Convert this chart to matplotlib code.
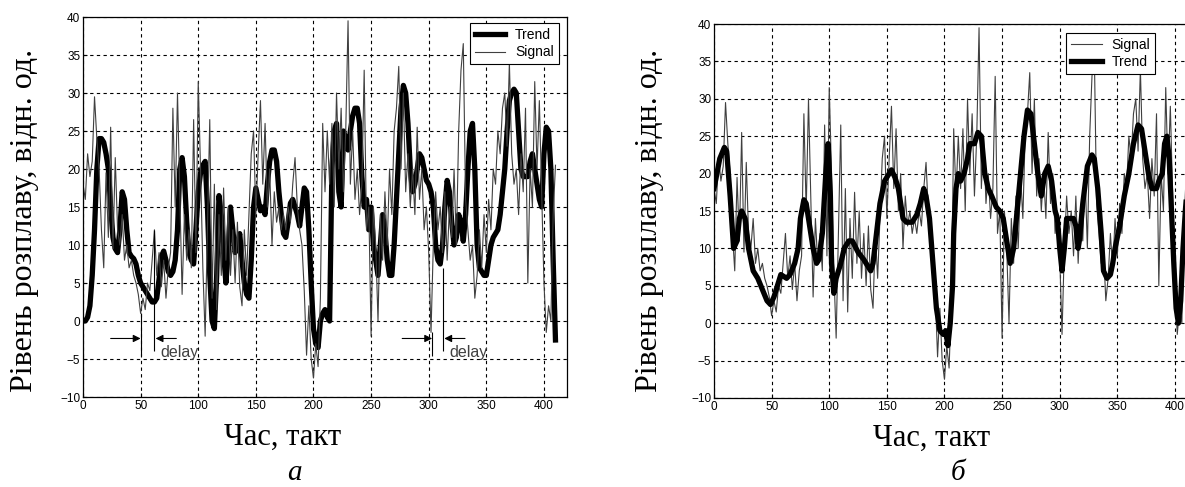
import numpy as np
import matplotlib.pyplot as plt

# signal, sampled every 2 cycles from 0 to 410 (same in both panels)
signal = [
    18, 16, 22, 19, 21, 29.5, 24, 20, 12, 7,
    19.5, 11, 25.5, 9.5, 21.5, 12, 10, 14, 8, 10,
    7, 8, 6, 5, 3.5, 1, 3, 1.5, 5, 4,
    8, 12, 6, 9, 4.5, 8, 3, 7, 9, 28,
    15, 30, 17, 3.5, 14, 8, 12, 7, 26.5, 9,
    31.5, 20, 7, -2, 12, 26.5, 3, 18, 1.5, 14,
    6, 17.5, 8, 15, 6, 12, 5, 13, 4.5, 2,
    12, 6, 14, 22, 25, 14, 22, 29, 18, 26,
    15, 20, 10, 17, 13, 15, 12, 14, 12, 15,
    13, 18, 21.5, 15, 12, 10, 4, -4.5, 2, -5,
    -7.5, -3, -6, 3, 26, 17, 25, 18, 26, 15,
    30, 20, 28, 17, 25, 39.5, 18, 25, 16, 20,
    14, 18, 33, 12, 15, -2, 15, 10, 0, 14,
    8, 17, 10, 20, 14, 25, 28, 33.5, 20, 30,
    17, 22, 15, 20, 14, 25.5, 16, 20, 12, 15,
    9, -1.5, 10, 17, 12, 15, 9, 17, 8, 15,
    11, 20, 10, 25, 33, 36.5, 16, 12, 8, 10,
    3, 6, 12, 7, 14, 9, 16, 12, 20, 18,
    25, 22, 28, 30, 23, 34, 22, 18, 20, 14,
    22, 17, 28, 5, 20, 15, 31.5, 20, 29, 17,
    5, -1.5, 2, 0, 14, 20.5,
]

# trend of panel (a), same sampling as the signal
trend_a = [
    0, 0, 0.5, 2, 6, 12, 20, 24, 24, 23.5,
    22, 20, 15, 11, 9.5, 9, 12, 17, 16, 12,
    9, 8.5, 8.2, 7.5, 6, 5, 4.5, 4, 3.5, 3,
    2.5, 2.5, 3, 5.5, 8.5, 9.2, 8, 6.5, 6, 6.5,
    8, 12, 20, 21.5, 19, 13, 9, 8, 7.5, 12,
    17, 19.5, 20.5, 21, 15, 6, 0, -1, 6, 16.5,
    14, 9, 5, 9, 15, 12, 9, 10, 11.5, 8,
    5, 3.5, 3, 8, 15, 17.5, 16, 14.5, 15, 14,
    18, 21, 22.5, 22.5, 21, 17, 14, 11.5, 11, 13,
    15.5, 16, 15, 14, 12.5, 15, 17.5, 17, 12, 5,
    -1, -3, -3.5, 0, 1, 1.5, 0.5, 0, 20, 25,
    26, 17, 15, 25, 24, 22.5, 25, 27, 28, 28,
    26, 19, 15, 16, 12, 15, 10, 8, 6, 10,
    14, 12, 8, 6, 6, 10, 16, 22, 28, 31,
    30, 26, 20, 17, 18, 20, 22, 21.5, 20, 18.5,
    18, 17, 15, 10, 8, 7.5, 10, 15, 18.5, 17,
    13, 10, 11, 14, 13, 10.5, 14, 20, 25, 26,
    20, 10, 7, 6.5, 6, 6, 8, 10, 11, 11.5,
    12, 14, 17, 20, 25, 29, 30, 30.5, 30, 25,
    20, 19, 19, 19, 21, 22, 20, 18, 16, 15,
    22, 25.5, 25, 20, 8, -2.5,
]

# trend of panel (b), read at its turning points
trend_b_x = [0, 5, 9, 11, 14, 17, 20, 22, 24, 27, 30, 34, 38, 42, 46, 49, 52, 55, 58,
             63, 66, 70, 73, 75, 78, 80, 83, 86, 89, 91, 94, 97, 99, 101, 102, 104,
             106, 108, 110, 113, 117, 120, 125, 130, 136, 138, 141, 144, 148, 154,
             157, 160, 162, 164, 167, 172, 176, 179, 182, 184, 187, 190, 193, 196,
             199, 201, 203, 205, 207, 208, 210, 212, 214, 217, 220, 222, 226, 229,
             232, 235, 238, 241, 245, 248, 251, 254, 257, 260, 263, 266, 269, 272,
             275, 278, 281, 284, 287, 290, 293, 296, 298, 300, 302, 304, 306, 309,
             312, 314, 316, 317, 320, 324, 328, 330, 333, 336, 338, 341, 344, 346,
             348, 352, 356, 360, 364, 368, 371, 374, 377, 380, 384, 386, 389, 391,
             393, 395, 397, 399, 401, 403, 405, 407, 409, 410]
trend_b = [18, 22, 23.5, 23, 17, 10, 11, 14, 15, 14, 10, 7, 6, 4.5, 3, 2.5, 3.5, 5, 6.5,
           6, 6.5, 8, 10, 14, 16.5, 16, 13, 10, 8, 8.5, 12, 20, 24, 17, 8, 4,
           6, 7, 8, 10, 11, 11, 9.5, 8.5, 7, 8, 12, 16, 19, 20.5,
           19.5, 18, 16, 14, 13.5, 13.5, 14.5, 16, 18, 17, 14, 8, 2, -1,
           -1.5, -1, -3, 0, 5, 12, 18, 20, 19, 20, 22, 24, 24, 25.5,
           25, 20, 18, 17, 15.5, 15, 14, 11, 8, 10, 15, 20, 25, 28.5,
           28, 24, 20, 17, 20, 21, 19, 15, 14, 10, 7, 10, 14, 14,
           14, 13, 10, 11, 16, 21, 22.5, 22, 18, 12, 7, 6, 6.5, 8,
           10, 13, 17, 20, 24, 26.5, 26, 23, 20, 18, 18, 19, 20, 24,
           25, 22, 15, 8, 2, 0, 3, 10, 15, 17]

# "delay" marks in panel (a): signal dip -> trend dip
delay_start = [50, 303]
delay_end = [62, 312.5]
delay_start_top = [1, -1.5]
delay_end_top = [12, 7]

x_ticks = list(range(0, 401, 50))
y_ticks = list(range(-10, 41, 5))
y_label = 'Рівень розплаву, відн. од.'
x_label = 'Час, такт'

sig_x = np.arange(len(signal)) * 2
W, H = 1185, 487

fig = plt.figure(figsize=(W / 100, H / 100), dpi=100)
ax1 = fig.add_axes([83 / W, (H - 397) / H, 484 / W, 380 / H])
ax2 = fig.add_axes([714 / W, (H - 398) / H, 484 / W, 374 / H])

sig_kw = dict(color='#404040', lw=0.8)
trend_kw = dict(color='black', lw=3.8, solid_joinstyle='round')
leg_kw = dict(loc='upper right', borderaxespad=0, handlelength=2.2,
              handletextpad=0.7, labelspacing=0.25, borderpad=0.35,
              fancybox=False, framealpha=1, edgecolor='black',
              prop={'family': 'Liberation Sans', 'size': 10})

la, = ax1.plot(sig_x, trend_a, label='Trend', **trend_kw)
ls, = ax1.plot(sig_x, signal, label='Signal', **sig_kw)
ax1.legend(handles=[la, ls], bbox_to_anchor=(0.983, 0.984), **leg_kw)

# delay annotation
arrow_y = -2.3
for x0, x1, t0, t1 in zip(delay_start, delay_end, delay_start_top, delay_end_top):
    ax1.vlines([x0], -4.6, t0, color='black', lw=0.8)
    ax1.vlines([x1], -4.0, t1, color='black', lw=0.8)
    ax1.annotate('', xy=(x0, arrow_y), xytext=(x0 - 26, arrow_y),
                 arrowprops=dict(arrowstyle='-|>', color='black', lw=0.8,
                                 mutation_scale=11, shrinkA=0, shrinkB=0))
    ax1.annotate('', xy=(x1 + 1, arrow_y), xytext=(x1 + 19, arrow_y),
                 arrowprops=dict(arrowstyle='-|>', color='black', lw=0.8,
                                 mutation_scale=11, shrinkA=0, shrinkB=0))
    ax1.text(x1 + 5, -4.1, 'delay', ha='left', va='center', color='#404040',
             family='Liberation Sans', fontsize=11.5)

ls2, = ax2.plot(sig_x, signal, label='Signal', **sig_kw)
lb, = ax2.plot(trend_b_x, trend_b, label='Trend', **trend_kw)
ax2.legend(handles=[ls2, lb], bbox_to_anchor=(0.911, 0.976), **leg_kw)

for ax in (ax1, ax2):
    ax.set_xlim(0, 420)
    ax.set_ylim(-10, 40)
    ax.set_xticks(x_ticks)
    ax.set_yticks(y_ticks)
    ax.grid(True, color='black', linestyle=(0, (3, 3)), linewidth=0.8)
    ax.tick_params(direction='in', length=3, labelsize=8.5, pad=2)
    for lab in ax.get_xticklabels() + ax.get_yticklabels():
        lab.set_family('Liberation Sans')
    for s in ax.spines.values():
        s.set_linewidth(0.9)
    ax.get_legend().get_frame().set_linewidth(0.8)

serif = 'Liberation Serif'
fig.text(25 / W, 1 - 220 / H, y_label, rotation=90, ha='center', va='center',
         family=serif, fontsize=23)
fig.text(649 / W, 1 - 220 / H, y_label, rotation=90, ha='center', va='center',
         family=serif, fontsize=23)
fig.text(283 / W, 1 - 445 / H, x_label, ha='center', va='baseline',
         family=serif, fontsize=22)
fig.text(932 / W, 1 - 446 / H, x_label, ha='center', va='baseline',
         family=serif, fontsize=22)
fig.text(294 / W, 1 - 480 / H, 'а', ha='center', va='baseline',
         family=serif, style='italic', fontsize=21)
fig.text(958 / W, 1 - 480 / H, 'б', ha='center', va='baseline',
         family=serif, style='italic', fontsize=21)

fig.savefig('out.png', dpi=100)
